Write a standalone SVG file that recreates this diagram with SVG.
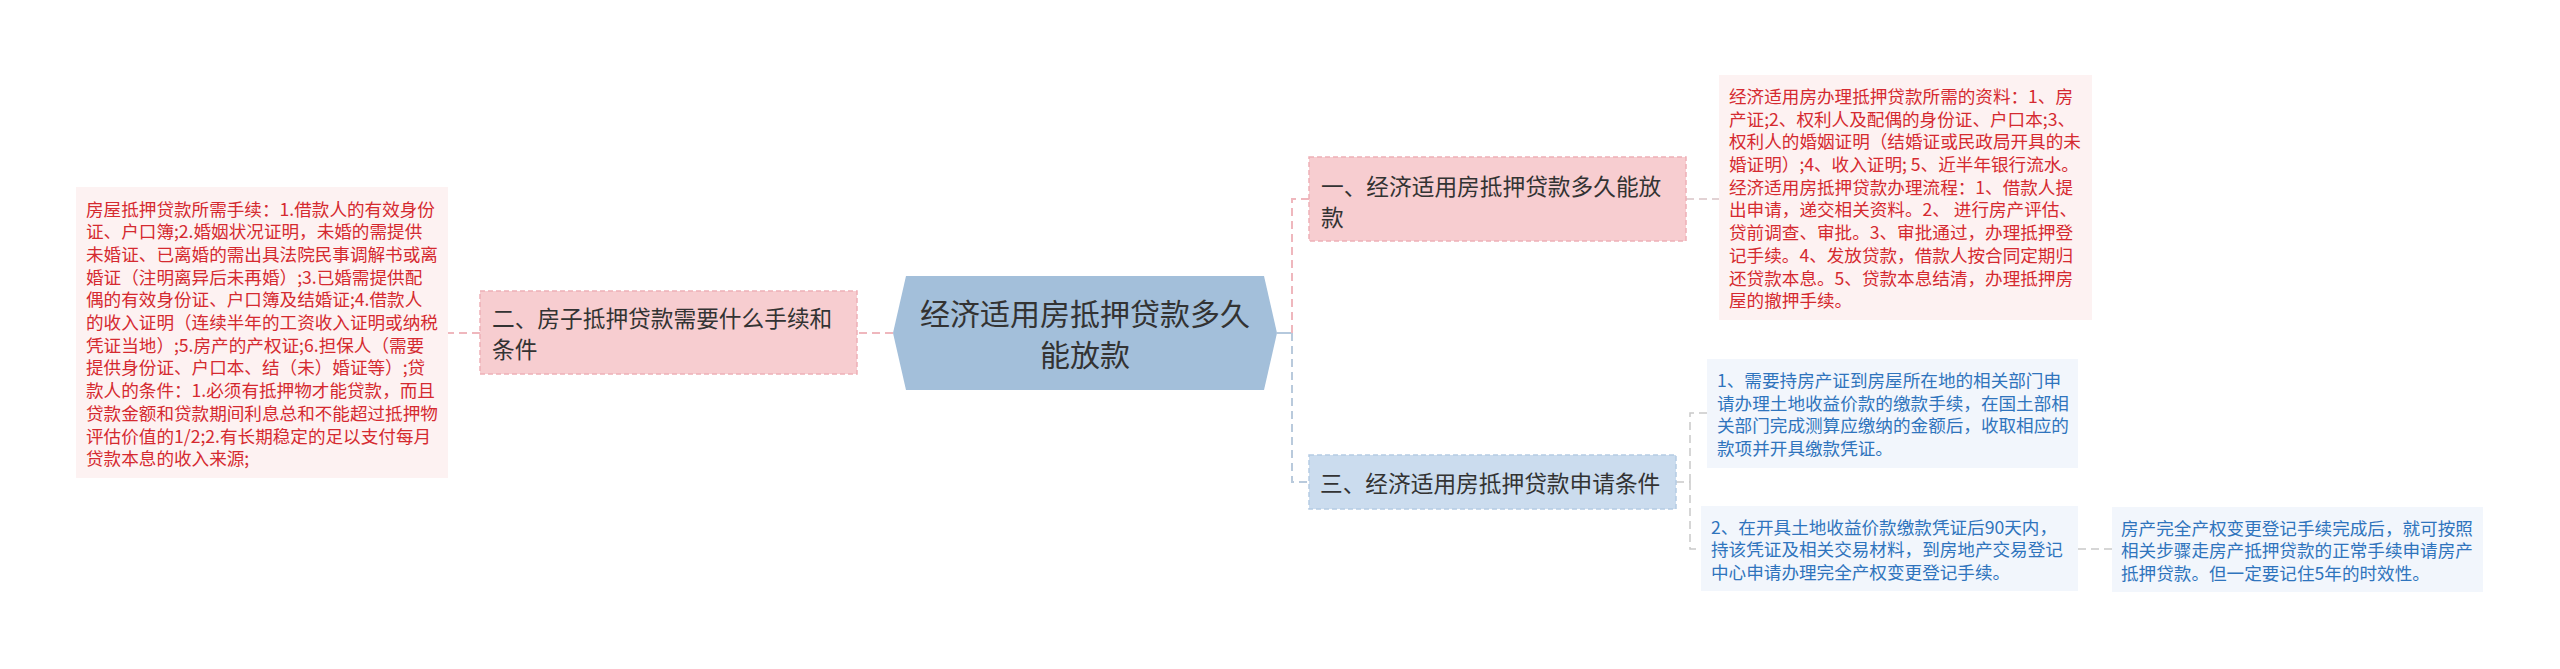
<svg xmlns="http://www.w3.org/2000/svg" width="2560" height="669" viewBox="0 0 2560 669">
<style>
text{font-family:"Noto Sans CJK SC","Noto Sans",sans-serif;}
.root{fill:#a3bfda;}
.rt{font-size:30px;fill:#333;text-anchor:middle;dominant-baseline:central;}
.pn{fill:#f7cdd0;stroke:#eeb0b6;stroke-width:1.5;stroke-dasharray:5 3;}
.bn{fill:#cbdcee;stroke:#b5cbe3;stroke-width:1.5;stroke-dasharray:5 3;}
.nt{font-size:22.7px;fill:#333;dominant-baseline:central;}
.pb{fill:#fdf2f2;}
.bb{fill:#f2f6fc;}
.pt{font-size:17.6px;fill:#d52a30;dominant-baseline:central;}
.bt{font-size:17.6px;fill:#2f74bd;dominant-baseline:central;}
.cp{fill:none;stroke:#efb7bd;stroke-width:2;stroke-dasharray:8 5;}
.cb{fill:none;stroke:#b9cadc;stroke-width:2;stroke-dasharray:8 5;}
.cg{fill:none;stroke:#c9c9c9;stroke-width:1.5;stroke-dasharray:8 5;}
.cgp{fill:none;stroke:#d9c4c6;stroke-width:1.5;stroke-dasharray:8 5;}
</style>
<rect width="2560" height="669" fill="#ffffff"/>
<g id="connectors">
  <path class="cp" d="M893,333 H857"/>
  <path class="cp" d="M480,333 H448"/>
  <path d="M1277,333 H1292" fill="none" stroke="#b5c9dd" stroke-width="2"/>
  <path class="cp" d="M1292,333 V199 H1309"/>
  <path class="cb" d="M1292,333 V482 H1309"/>
  <path class="cgp" d="M1686,199 H1719"/>
  <path class="cg" d="M1676,482 H1690"/>
  <path class="cg" d="M1690,482 V413 H1707"/>
  <path class="cg" d="M1690,482 V549 H1701"/>
  <path class="cg" d="M2078,549 H2112"/>
</g>
<g id="root">
  <polygon class="root" points="893,333 906,276 1264,276 1277,333 1264,390 906,390"/>
  <text class="rt" x="1085" y="312">经济适用房抵押贷款多久</text>
  <text class="rt" x="1085" y="353">能放款</text>
</g>
<g id="node-left">
  <rect class="pn" x="480" y="291" width="377" height="83"/>
  <text class="nt" x="492" y="317">二、房子抵押贷款需要什么手续和</text>
  <text class="nt" x="492" y="348">条件</text>
</g>
<g id="node-left-detail">
  <rect class="pb" x="76" y="187" width="372" height="291"/>
  <text class="pt" x="86" y="208">房屋抵押贷款所需手续：1.借款人的有效身份</text>
  <text class="pt" x="86" y="230.7">证、户口簿;2.婚姻状况证明，未婚的需提供</text>
  <text class="pt" x="86" y="253.4">未婚证、已离婚的需出具法院民事调解书或离</text>
  <text class="pt" x="86" y="276.1">婚证（注明离异后未再婚）;3.已婚需提供配</text>
  <text class="pt" x="86" y="298.8">偶的有效身份证、户口簿及结婚证;4.借款人</text>
  <text class="pt" x="86" y="321.5">的收入证明（连续半年的工资收入证明或纳税</text>
  <text class="pt" x="86" y="344.2">凭证当地）;5.房产的产权证;6.担保人（需要</text>
  <text class="pt" x="86" y="366.9">提供身份证、户口本、结（未）婚证等）;贷</text>
  <text class="pt" x="86" y="389.6">款人的条件：1.必须有抵押物才能贷款，而且</text>
  <text class="pt" x="86" y="412.3">贷款金额和贷款期间利息总和不能超过抵押物</text>
  <text class="pt" x="86" y="435">评估价值的1/2;2.有长期稳定的足以支付每月</text>
  <text class="pt" x="86" y="457.7">贷款本息的收入来源;</text>
</g>
<g id="node-1">
  <rect class="pn" x="1309" y="157" width="377" height="84"/>
  <text class="nt" x="1321" y="185.5">一、经济适用房抵押贷款多久能放</text>
  <text class="nt" x="1321" y="216.5">款</text>
</g>
<g id="node-1-detail">
  <rect class="pb" x="1719" y="75" width="373" height="245"/>
  <text class="pt" x="1729" y="95.4">经济适用房办理抵押贷款所需的资料：1、房</text>
  <text class="pt" x="1729" y="118.1">产证;2、权利人及配偶的身份证、户口本;3、</text>
  <text class="pt" x="1729" y="140.8">权利人的婚姻证明（结婚证或民政局开具的未</text>
  <text class="pt" x="1729" y="163.5">婚证明）;4、收入证明; 5、近半年银行流水。</text>
  <text class="pt" x="1729" y="186.2">经济适用房抵押贷款办理流程：1、借款人提</text>
  <text class="pt" x="1729" y="208.9">出申请，递交相关资料。2、 进行房产评估、</text>
  <text class="pt" x="1729" y="231.6">贷前调查、审批。3、审批通过，办理抵押登</text>
  <text class="pt" x="1729" y="254.3">记手续。4、发放贷款，借款人按合同定期归</text>
  <text class="pt" x="1729" y="277">还贷款本息。5、贷款本息结清，办理抵押房</text>
  <text class="pt" x="1729" y="299.7">屋的撤押手续。</text>
</g>
<g id="node-3">
  <rect class="bn" x="1309" y="455" width="367" height="54"/>
  <text class="nt" x="1320" y="482">三、经济适用房抵押贷款申请条件</text>
</g>
<g id="node-3-a">
  <rect class="bb" x="1707" y="359" width="371" height="109"/>
  <text class="bt" x="1717" y="379.5">1、需要持房产证到房屋所在地的相关部门申</text>
  <text class="bt" x="1717" y="402.2">请办理土地收益价款的缴款手续，在国土部相</text>
  <text class="bt" x="1717" y="424.9">关部门完成测算应缴纳的金额后，收取相应的</text>
  <text class="bt" x="1717" y="447.6">款项并开具缴款凭证。</text>
</g>
<g id="node-3-b">
  <rect class="bb" x="1701" y="506" width="377" height="85"/>
  <text class="bt" x="1711" y="526">2、在开具土地收益价款缴款凭证后90天内，</text>
  <text class="bt" x="1711" y="548.7">持该凭证及相关交易材料，到房地产交易登记</text>
  <text class="bt" x="1711" y="571.4">中心申请办理完全产权变更登记手续。</text>
</g>
<g id="node-3-c">
  <rect class="bb" x="2112" y="507" width="371" height="85"/>
  <text class="bt" x="2121" y="527">房产完全产权变更登记手续完成后，就可按照</text>
  <text class="bt" x="2121" y="549.7">相关步骤走房产抵押贷款的正常手续申请房产</text>
  <text class="bt" x="2121" y="572.4">抵押贷款。但一定要记住5年的时效性。</text>
</g>
</svg>
